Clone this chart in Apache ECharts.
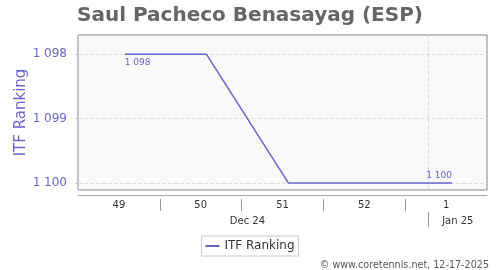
<!DOCTYPE html>
<html><head><meta charset="utf-8">
<script src="https://cdn.jsdelivr.net/npm/echarts@6/dist/echarts.min.js"></script>
<style>html,body{margin:0;padding:0;background:#fff}#c{width:500px;height:270px}</style>
</head><body><div id="c"></div>
<script>
// Days counted from Mon 2 Dec 2024
const rankDays = [4, 11, 18, 25, 32];
const ranks = [1098, 1098, 1100, 1100, 1100];
const weekLabels = ['49', '50', '51', '52', '1'];
const weekCenters = [3.5, 10.5, 17.5, 24.5, 31.5];
const weekBounds = [7, 14, 21, 28];
const monthLabels = ['Dec 24', 'Jan 25'];
const monthCenters = [14.5, 32.5];
const monthBounds = [30];
const yTicks = [1098, 1099, 1100];
const xMin = 0, xMax = 35;

const FONT = 'DejaVu Sans';
const BLUE = '#6666cc';
const fmtRank = v => { const s = String(Math.round(v)); return s.length > 3 ? s.slice(0, -3) + ' ' + s.slice(-3) : s; };

const seriesData = rankDays.map((d, i) => {
  const item = { value: [d, ranks[i]] };
  if (i === 0) item.label = { show: true, position: 'bottom', align: 'left', distance: 3 };
  if (i === rankDays.length - 1) item.label = { show: true, position: 'top', align: 'right', distance: 2 };
  return item;
});

const chart = echarts.init(document.getElementById('c'), null, { renderer: 'canvas' });
chart.setOption({
  animation: false,
  textStyle: { fontFamily: FONT },
  title: [
    { text: 'Saul Pacheco Benasayag (ESP)', left: 'center', top: 1,
      textStyle: { fontFamily: FONT, fontSize: 20, fontWeight: 'bold', color: '#666' } },
    { text: '© www.coretennis.net, 12-17-2025', right: 11, bottom: 0, padding: 0,
      textStyle: { fontFamily: FONT, fontSize: 9.6, fontWeight: 'normal', color: '#555' } }
  ],
  legend: {
    data: [{ name: 'ITF Ranking', icon: 'rect', itemStyle: { color: BLUE, borderWidth: 0, opacity: 1 } }],
    left: 'center', bottom: 14,
    borderColor: '#ccc', borderWidth: 1, padding: [4, 4],
    itemWidth: 14, itemHeight: 2, itemGap: 4,
    textStyle: { fontFamily: FONT, fontSize: 12, color: '#333' }
  },
  grid: { left: 78, right: 13, top: 35, bottom: 80, show: true,
    backgroundColor: '#f9f9f9', borderColor: '#888', borderWidth: 1 },
  xAxis: [
    { type: 'value', min: xMin, max: xMax, position: 'bottom', offset: 5,
      axisLine: { show: true, lineStyle: { color: '#aaa' } },
      axisTick: { show: false }, axisLabel: { show: false }, splitLine: { show: false } },
    { type: 'value', min: xMin, max: xMax, position: 'bottom', offset: 9,
      axisLine: { show: false },
      axisTick: { show: true, customValues: weekBounds, length: 12, lineStyle: { color: '#999' } },
      axisLabel: { show: true, customValues: weekCenters, margin: 1,
        formatter: v => weekLabels[weekCenters.indexOf(v)],
        fontFamily: FONT, fontSize: 10, color: '#333' },
      splitLine: { show: false } },
    { type: 'value', min: xMin, max: xMax, position: 'bottom', offset: 22,
      axisLine: { show: false },
      axisTick: { show: true, customValues: monthBounds, length: 15, lineStyle: { color: '#999' } },
      axisLabel: { show: true, customValues: monthCenters, margin: 4,
        formatter: v => monthLabels[monthCenters.indexOf(v)],
        fontFamily: FONT, fontSize: 10, color: '#333' },
      splitLine: { show: true, lineStyle: { color: '#ddd', type: 'dashed' } } }
  ],
  yAxis: {
    type: 'value', inverse: true, min: 1097.7, max: 1100.11, offset: 5,
    name: 'ITF Ranking', nameLocation: 'middle', nameGap: 44, nameMoveOverlap: false,
    nameTextStyle: { fontFamily: FONT, fontSize: 15, color: BLUE },
    axisLine: { show: true, lineStyle: { color: '#c0c0e8' } },
    axisTick: { show: true, customValues: yTicks, length: 3, lineStyle: { color: '#c0c0e8' } },
    axisLabel: { customValues: yTicks, formatter: fmtRank, margin: 6,
      fontFamily: FONT, fontSize: 12, color: BLUE },
    splitLine: { show: true, lineStyle: { color: '#ddd', type: 'dashed' } }
  },
  series: [{
    name: 'ITF Ranking', type: 'line', xAxisIndex: 0, data: seriesData,
    showSymbol: true, symbol: 'circle', symbolSize: 1,
    lineStyle: { color: BLUE, width: 1.5 }, itemStyle: { color: 'transparent', borderWidth: 0 },
    label: { show: false, formatter: p => fmtRank(p.value[1]),
      fontFamily: FONT, fontSize: 9, color: BLUE }
  }],
  color: [BLUE]
});
</script></body></html>
